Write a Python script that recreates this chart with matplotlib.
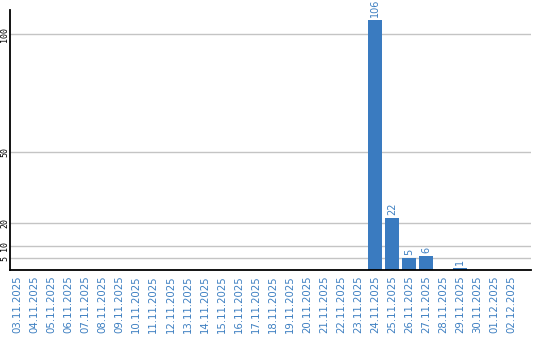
import matplotlib
matplotlib.use("Agg")
import matplotlib.pyplot as plt

dates = ["03.11.2025", "04.11.2025", "05.11.2025", "06.11.2025", "07.11.2025",
         "08.11.2025", "09.11.2025", "10.11.2025", "11.11.2025", "12.11.2025",
         "13.11.2025", "14.11.2025", "15.11.2025", "16.11.2025", "17.11.2025",
         "18.11.2025", "19.11.2025", "20.11.2025", "21.11.2025", "22.11.2025",
         "23.11.2025", "24.11.2025", "25.11.2025", "26.11.2025", "27.11.2025",
         "28.11.2025", "29.11.2025", "30.11.2025", "01.12.2025", "02.12.2025"]
values = [0, 0, 0, 0, 0, 0, 0, 0, 0, 0,
          0, 0, 0, 0, 0, 0, 0, 0, 0, 0,
          0, 106, 22, 5, 6, 0, 1, 0, 0, 0]
yticks = [5, 10, 20, 50, 100]

bar_color = "#3a7bc0"
text_color = "#3d7fc1"

fig = plt.figure(figsize=(5.4, 3.4), dpi=100)
ax = fig.add_axes([10/540, 70/340, 521/540, 260/340])

x = list(range(len(dates)))
ax.bar(x, values, width=0.82, color=bar_color, zorder=3)
for xi, v in zip(x, values):
    if v > 0:
        ax.annotate(str(v), (xi, v), xytext=(0, 2), textcoords="offset points",
                    rotation=90, ha="center", va="bottom", fontsize=7,
                    color=text_color, annotation_clip=False)

ax.set_xlim(-0.41, 30.15)
ax.set_ylim(0, 110.2)
ax.set_yticks(yticks)
ax.set_yticklabels([str(t) for t in yticks], rotation=90, va="center",
                   ha="center", fontsize=6, family="DejaVu Sans Mono")
ax.set_xticks(x)
ax.set_xticklabels(dates, rotation=90, fontsize=7.3, color=text_color)
ax.tick_params(axis="both", length=0)
ax.tick_params(axis="y", pad=3.6)
ax.tick_params(axis="x", pad=4)
ax.grid(axis="y", color="#c4c4c4", linewidth=1, zorder=0)
for s in ["top", "right"]:
    ax.spines[s].set_visible(False)
for s in ["left", "bottom"]:
    ax.spines[s].set_color("black")
    ax.spines[s].set_linewidth(1.3)
    ax.spines[s].set_zorder(4)

fig.savefig("out.png", dpi=100)
